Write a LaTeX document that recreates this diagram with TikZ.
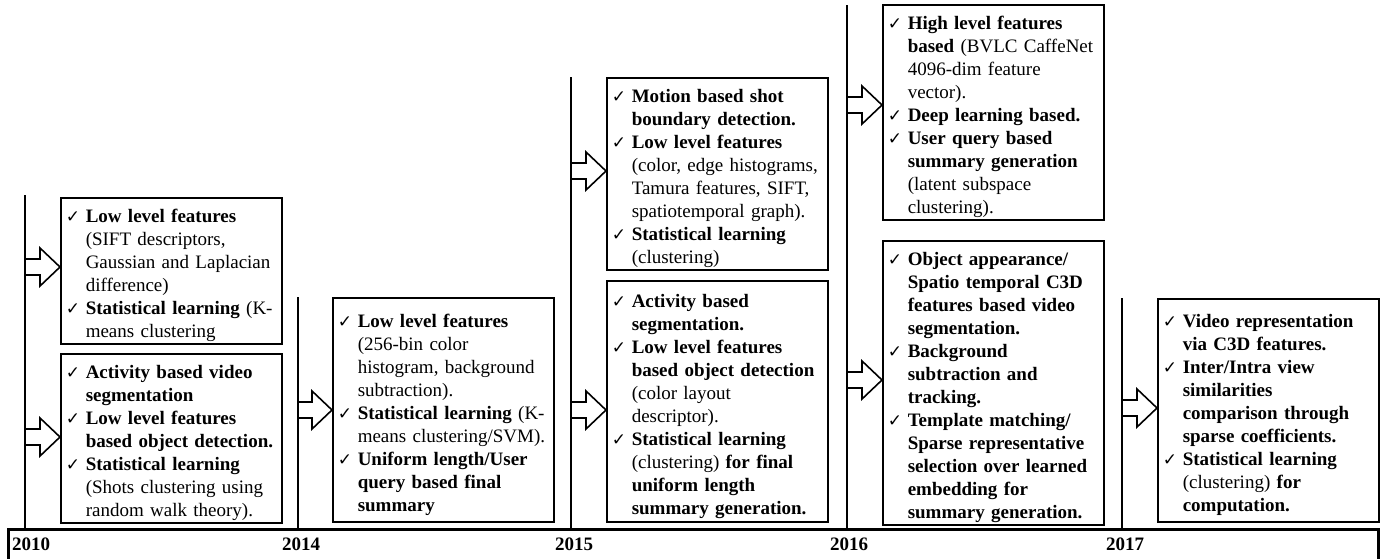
\documentclass[tikz,border=0pt]{standalone}
\usepackage{fontspec}
\setmainfont{Liberation Serif}
\newfontfamily\ckfont{DejaVu Sans}
\usepackage{tikz}
\usetikzlibrary{
    calc
}
\tikzstyle{period} = [
    rectangle,
    draw=black,
    line width=1.5pt,
    anchor=north west,
    minimum width=221pt,
    text width=211pt,
    inner xsep=5pt,
    inner ysep=2pt,
    align=left,
    font=\fontsize{19}{23}\selectfont
]
\tikzstyle{yearline} = [
    draw=black,
    line width=2.8pt
]
\tikzstyle{bar} = [
    draw=black,
    line width=3pt
]
\tikzstyle{year} = [
    anchor=base,
    inner sep=0pt,
    font=\fontsize{19}{23}\selectfont\bfseries
]
\tikzstyle{blockarr} = [
    draw=black,
    line width=1.6pt,
    line join=miter
]
% one checked item with hanging lines
\newcommand{\chk}{\par\hangindent=20pt\hangafter=1\noindent
    \makebox[20pt][l]{\ckfont\fontsize{17}{17}\selectfont ✓}}
% hollow block arrow from a point on a year line to a box
\newcommand{\blockarrow}[2]{%
    \draw[blockarr] let \p1=(#1), \p2=(#2.west) in
        (\x1,\y1+8pt) -- (\x2-20pt,\y1+8pt) -- (\x2-20pt,\y1+19pt)
        -- (\x2,\y1) -- (\x2-20pt,\y1-19pt) -- (\x2-20pt,\y1-8pt)
        -- (\x1,\y1-8pt);}

\begin{document}
\begin{tikzpicture}[x=1pt, y=-1pt]
    \useasboundingbox (0,0) rectangle (1386,558);

    % Timeline bar
    \coordinate (barL) at (8,529);
    \coordinate (barR) at (1378,529);
    \draw[bar] (8,572) -- (barL) -- (barR) -- (1378,572);

    % Year lines
    \coordinate (top10) at (25,195);
    \coordinate (top14) at (298,297);
    \coordinate (top15) at (571,77);
    \coordinate (top16) at (847,5);
    \coordinate (top17) at (1122,298);
    \draw[yearline] (top10) -- (top10 |- barL);
    \draw[yearline] (top14) -- (top14 |- barL);
    \draw[yearline] (top15) -- (top15 |- barL);
    \draw[yearline] (top16) -- (top16 |- barL);
    \draw[yearline] (top17) -- (top17 |- barL);

    % Years
    \node[year, anchor=base west] (y10) at (12,550) {2010};
    \node[year] (y14) at (301,550) {2014};
    \node[year] (y15) at (574,550) {2015};
    \node[year] (y16) at (849,550) {2016};
    \node[year] (y17) at (1125,550) {2017};

    % 2010
    \node[period, minimum height=140pt] (b10a) at (60,197) {
        \chk\textbf{Low level features}\newline (SIFT descriptors,\newline
        Gaussian and Laplacian\newline difference)
        \chk\textbf{Statistical learning} (K-\newline means clustering\par
    };
    \node[period, minimum height=168pt] (b10b) at (60,353) {
        \chk\textbf{Activity based video\newline segmentation}
        \chk\textbf{Low level features\newline based object detection.}
        \chk\textbf{Statistical learning}\newline (Shots clustering using\newline
        random walk theory).\par
    };

    % 2014
    \node[period, minimum height=224pt] (b14) at (332,297) {
        \chk\textbf{Low level features}\newline (256-bin color\newline
        histogram, background\newline subtraction).
        \chk\textbf{Statistical learning} (K-\newline means clustering/SVM).
        \chk\textbf{Uniform length/User\newline query based final\newline summary}\par
    };

    % 2015
    \node[period, minimum height=188pt] (b15a) at (606,77) {
        \chk\textbf{Motion based shot\newline boundary detection.}
        \chk\textbf{Low level features}\newline (color, edge histograms,\newline
        Tamura features, SIFT,\newline spatiotemporal graph).
        \chk\textbf{Statistical learning}\newline (clustering)\par
    };
    \node[period, minimum height=241pt] (b15b) at (606,280) {
        \chk\textbf{Activity based\newline segmentation.}
        \chk\textbf{Low level features\newline based object detection}\newline
        (color layout\newline descriptor).
        \chk\textbf{Statistical learning}\newline (clustering) \textbf{for final\newline
        uniform length\newline summary generation.}\par
    };

    % 2016
    \node[period, minimum height=215pt] (b16a) at (882,4) {
        \chk\textbf{High level features\newline based} (BVLC CaffeNet\newline
        4096-dim feature\newline vector).
        \chk\textbf{Deep learning based.}
        \chk\textbf{User query based\newline summary generation}\newline
        (latent subspace\newline clustering).\par
    };
    \node[period, minimum height=281pt] (b16b) at (882,240) {
        \chk\textbf{Object appearance/\newline Spatio temporal C3D\newline
        features based video\newline segmentation.}
        \chk\textbf{Background\newline subtraction and\newline tracking.}
        \chk\textbf{Template matching/\newline Sparse representative\newline
        selection over learned\newline embedding for\newline summary generation.}\par
    };

    % 2017
    \node[period, minimum height=223pt] (b17) at (1157,298) {
        \chk\textbf{Video representation\newline via C3D features.}
        \chk\textbf{Inter/Intra view\newline similarities\newline
        comparison through\newline sparse coefficients.}
        \chk\textbf{Statistical learning}\newline (clustering) \textbf{for\newline
        computation.}\par
    };

    % Arrows
    \coordinate (a10a) at (25,267);
    \coordinate (a10b) at (25,437);
    \coordinate (a14) at (298,410);
    \coordinate (a15a) at (571,171);
    \coordinate (a15b) at (571,410);
    \coordinate (a16a) at (847,105);
    \coordinate (a16b) at (847,380);
    \coordinate (a17) at (1122,408);
    \blockarrow{a10a}{b10a}
    \blockarrow{a10b}{b10b}
    \blockarrow{a14}{b14}
    \blockarrow{a15a}{b15a}
    \blockarrow{a15b}{b15b}
    \blockarrow{a16a}{b16a}
    \blockarrow{a16b}{b16b}
    \blockarrow{a17}{b17}
\end{tikzpicture}
\end{document}
